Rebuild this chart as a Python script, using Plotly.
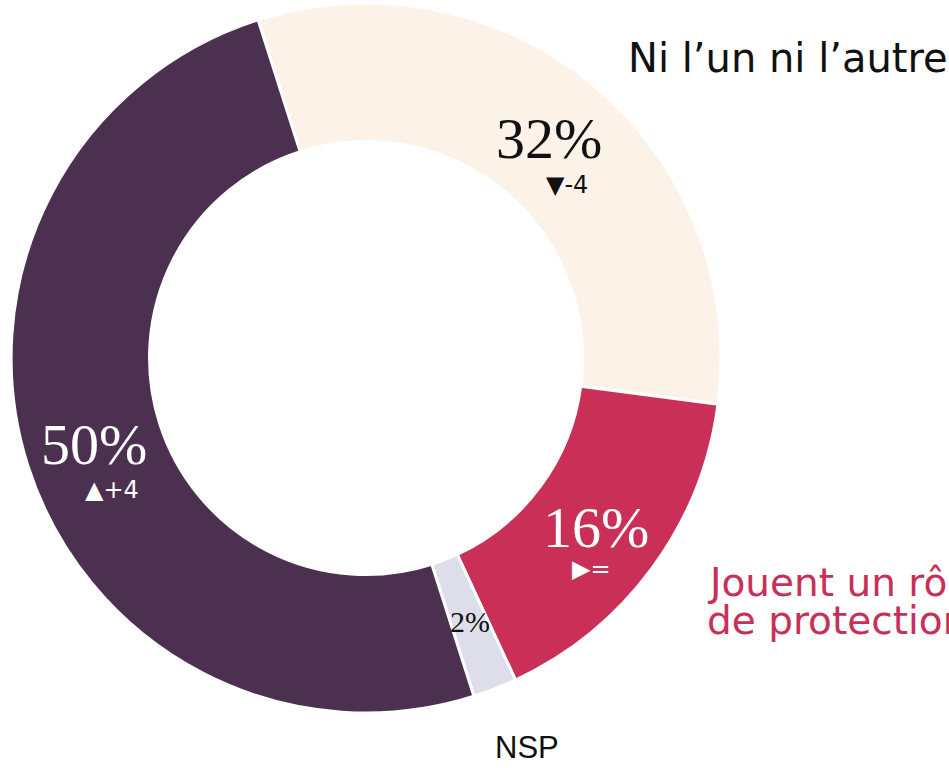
import numpy as np
import plotly.graph_objects as go

labels = ["Ni l’un ni l’autre", "Jouent un rôle de protection", "NSP", "Autre"]
values = [32, 16, 2, 50]
changes = ["▼-4", "▶=", "", "▲+4"]
colors = ["#FDF2E8", "#C92F57", "#DDDEEA", "#4B3050"]
text_colors = ["#111111", "#FFFFFF", "#111111", "#FFFFFF"]

W, H = 949, 768
cx, cy, R = 366, 358, 355          # page pixels
hole = 0.61
rotation = -17.7
sub_dx = [18, -5, 0, 18]
sub_dy = [46, 42, 0, 45]
lbl_dy = [0, 0, -3, 0]


def fx(px):
    return px / W


def fy(py):
    return 1 - py / H


fig = go.Figure(go.Pie(
    labels=labels, values=values, sort=False, direction="clockwise",
    rotation=rotation, hole=hole, textinfo="none",
    marker=dict(colors=colors, line=dict(color="white", width=3)),
    domain=dict(x=[fx(cx - R), fx(cx + R)], y=[fy(cy + R), fy(cy - R)]),
    showlegend=False, hoverinfo="label+percent",
))

# inside labels at slice midpoints
vals = np.array(values, dtype=float)
start = rotation + 360 * (np.cumsum(vals) - vals) / vals.sum()
mid = np.radians(start + 180 * vals / vals.sum())
rmid = R * (1 + hole) / 2
ann = []
for i, v in enumerate(values):
    px = cx + rmid * np.sin(mid[i])
    py = cy - rmid * np.cos(mid[i]) + lbl_dy[i]
    big = v >= 10
    ann.append(dict(x=fx(px), y=fy(py), xref="paper", yref="paper",
                    text=f"{v}%", showarrow=False, xanchor="center", yanchor="middle",
                    font=dict(family="Liberation Serif", size=58 if big else 30, color=text_colors[i])))
    if changes[i]:
        ann.append(dict(x=fx(px + sub_dx[i]), y=fy(py + sub_dy[i]), xref="paper", yref="paper",
                        text=changes[i], showarrow=False, xanchor="center", yanchor="middle",
                        font=dict(family="DejaVu Sans", size=24, color=text_colors[i])))

ann.append(dict(x=fx(626), y=fy(58), xref="paper", yref="paper", text=labels[0],
                showarrow=False, xanchor="left", yanchor="middle",
                font=dict(family="DejaVu Sans", size=40, color="#111111")))
line1, line2 = "Jouent un rôle", "de protection"
ann.append(dict(x=fx(705), y=fy(582), xref="paper", yref="paper", text=line1,
                showarrow=False, xanchor="left", yanchor="middle",
                font=dict(family="DejaVu Sans", size=39, color="#C92F57")))
ann.append(dict(x=fx(705), y=fy(620), xref="paper", yref="paper", text=line2,
                showarrow=False, xanchor="left", yanchor="middle",
                font=dict(family="DejaVu Sans", size=39, color="#C92F57")))
ann.append(dict(x=fx(527), y=fy(747), xref="paper", yref="paper", text=labels[2],
                showarrow=False, xanchor="center", yanchor="middle",
                font=dict(family="Liberation Sans", size=31, color="#111111")))

fig.update_layout(width=W, height=H, margin=dict(l=0, r=0, t=0, b=0),
                  paper_bgcolor="white", plot_bgcolor="white", annotations=ann)
fig.write_html("out.html", config={"displayModeBar": False},
               post_script="document.body.style.margin='0';document.body.style.overflow='hidden';")
